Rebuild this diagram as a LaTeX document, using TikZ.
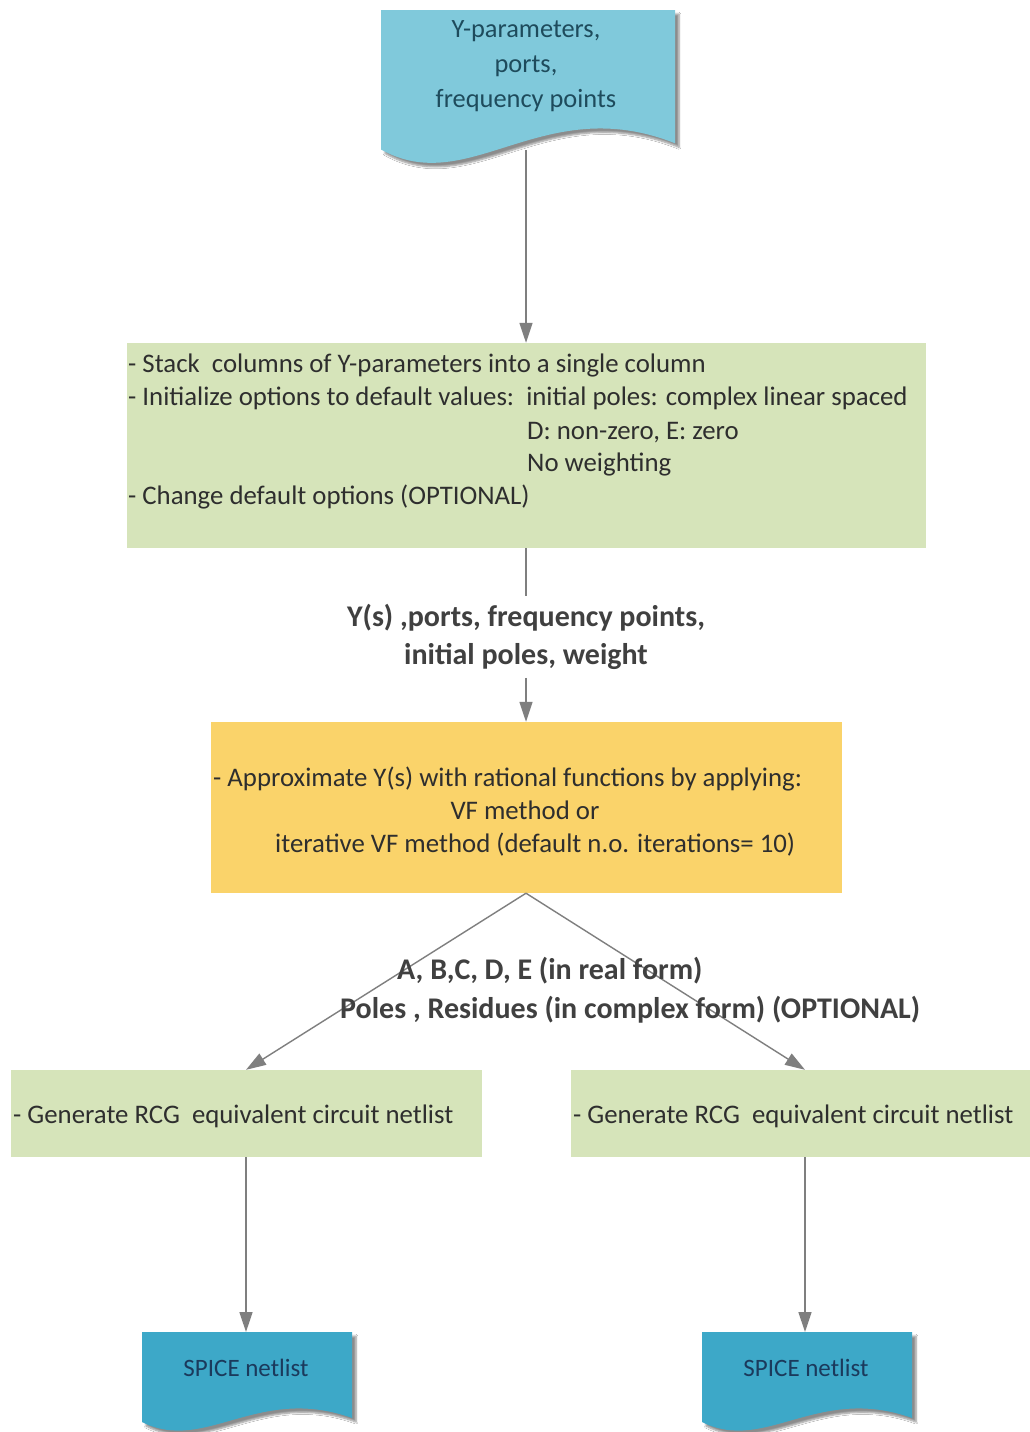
\documentclass[tikz,border=0pt]{standalone}
\usepackage{fontspec}
\setmainfont{Carlito}
\usetikzlibrary{arrows.meta,shadows.blur}
\definecolor{boxgreen}{HTML}{D6E4BA}
\definecolor{boxgold}{HTML}{FAD36A}
\definecolor{docblue}{HTML}{80C9DB}
\definecolor{docdeep}{HTML}{3DA8C8}
\definecolor{linegrey}{HTML}{7F7F7F}
\definecolor{txt}{HTML}{2E2E2E}
\definecolor{lbl}{HTML}{404040}
\definecolor{doctxt}{HTML}{1E4B5C}
\definecolor{spicetxt}{HTML}{1B3A5C}

% document symbol with a wavy lower edge: x, y, width, height, colour
\newcommand{\wavedoc}[5]{%
  \begin{scope}[shift={(#1,#2)}, xscale=#3/100, yscale=#4/100]
    \fill[#5, blur shadow={shadow xshift=4pt, shadow yshift=-4pt,
          shadow opacity=45, shadow blur steps=6}]
      (0,0) -- (100,0) -- (100,86) .. controls (55,52) and (30,122) .. (0,90) -- cycle;
  \end{scope}}

\tikzset{
  greenbox/.style={fill=boxgreen, draw=none, inner sep=0pt},
  goldbox/.style={fill=boxgold, draw=none, inner sep=0pt},
  boxtext/.style={inner sep=0pt, text=txt, font=\fontsize{26.8}{33}\selectfont},
  labeltext/.style={inner sep=0pt, text=lbl, font=\fontsize{30}{38}\selectfont\bfseries},
  arr/.style={draw=linegrey, line width=1.4pt, -{Triangle[length=20pt,width=13pt]}},
  plain/.style={draw=linegrey, line width=1.4pt}
}

\begin{document}
\begin{tikzpicture}[x=1pt, y=-1pt]
  \fill[white] (0,0) rectangle (1030,1432);
  \useasboundingbox (0,0) rectangle (1030,1432);

  % input document
  \wavedoc{381}{10}{294}{155}{docblue}
  \node[align=center, text=doctxt, inner sep=0pt,
        font=\fontsize{26.4}{35}\selectfont] (dIn) at (526,66)
        {Y-parameters,\\ports,\\frequency points};
  \coordinate (dInOut) at (526,150);

  % preparation step
  \node[greenbox, minimum width=799pt, minimum height=205pt] (b1) at (526,445.5) {};
  \node[boxtext, anchor=base west] (t1) at (128,372) {- Stack\ \ columns of Y-parameters into a single column};
  \node[boxtext, anchor=base west] (t2) at (128,405) {- Initialize options to default values:\ \ initial poles: complex linear spaced};
  \node[boxtext, anchor=base west] (t3) at (527,439) {D: non-zero, E: zero};
  \node[boxtext, anchor=base west] (t4) at (527,471) {No weighting};
  \node[boxtext, anchor=base west] (t5) at (128,504) {- Change default options (OPTIONAL)};

  % data passed to the fitting step
  \node[labeltext, align=center, inner sep=8pt] (l1) at (526,637)
        {Y(s) ,ports, frequency points,\\initial poles, weight};

  % fitting step
  \node[goldbox, minimum width=631pt, minimum height=171pt] (ora) at (526,807.5) {};
  \node[boxtext, anchor=base west] (o1) at (213,786) {- Approximate Y(s) with rational functions by applying:};
  \node[boxtext, anchor=base] (o2) at (525,819) {VF method or};
  \node[boxtext, anchor=base west] (o3) at (275,852) {iterative VF method (default n.o. iterations= 10)};

  % netlist generation steps
  \node[greenbox, minimum width=471pt, minimum height=87pt] (gl) at (246.5,1113.5) {};
  \node[greenbox, minimum width=459pt, minimum height=87pt] (gr) at (800.5,1113.5) {};
  \node[boxtext, anchor=base west] (gtl) at (13,1123) {- Generate RCG\ \ equivalent circuit netlist};
  \node[boxtext, anchor=base west] (gtr) at (573,1123) {- Generate RCG\ \ equivalent circuit netlist};

  % output documents
  \wavedoc{142}{1332}{210}{100}{docdeep}
  \wavedoc{702}{1332}{210}{100}{docdeep}
  \node[text=spicetxt, inner sep=0pt, font=\fontsize{25}{28}\selectfont, anchor=base] (sL) at (246,1376) {SPICE netlist};
  \node[text=spicetxt, inner sep=0pt, font=\fontsize{25}{28}\selectfont, anchor=base] (sR) at (806,1376) {SPICE netlist};
  \coordinate (sLin) at (246,1332);
  \coordinate (sRin) at (805,1332);

  % connectors
  \draw[arr] (dInOut) -- (b1.north);
  \draw[plain] (b1.south) -- (l1.north);
  \draw[arr] (l1.south) -- (ora.north);
  \draw[arr] (ora.south) -- (gl.north -| sLin);
  \draw[arr] (ora.south) -- (gr.north -| sRin);
  \draw[arr] (gl.south -| sLin) -- (sLin);
  \draw[arr] (gr.south -| sRin) -- (sRin);

  % results of the fit, written across the two branches
  \node[labeltext, anchor=base west] (l2a) at (397,979) {A, B,C, D, E (in real form)};
  \node[labeltext, anchor=base west] (l2b) at (340,1018) {Poles , Residues (in complex form) (OPTIONAL)};
\end{tikzpicture}
\end{document}
